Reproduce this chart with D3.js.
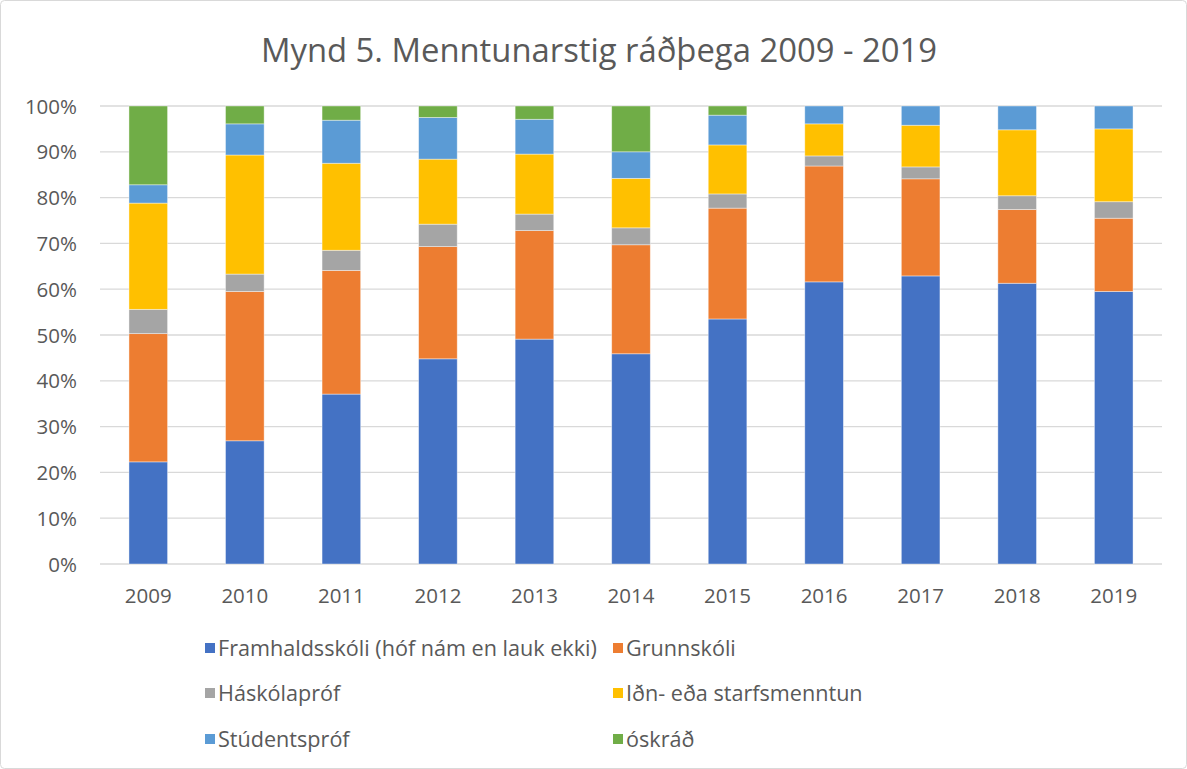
<!DOCTYPE html>
<html lang="is">
<head>
<meta charset="utf-8">
<script src="https://cdn.jsdelivr.net/npm/d3@7"></script>
<title>Mynd 5</title>
<style>
  body { margin: 0; background: #fff; }
  svg text { font-family: "Open Sans", Lato, sans-serif; fill: #595959; }
</style>
</head>
<body>
<svg width="1187" height="769"></svg>
<script>
// data (percent of each year)
var years = ["2009","2010","2011","2012","2013","2014","2015","2016","2017","2018","2019"];
var seriesNames = ["Framhaldsskóli (hóf nám en lauk ekki)","Grunnskóli","Háskólapróf","Iðn- eða starfsmenntun","Stúdentspróf","óskráð"];
var framhald  = [22.3, 26.9, 37.1, 44.8, 49.1, 45.9, 53.5, 61.6, 62.9, 61.3, 59.5];
var grunn     = [28.0, 32.6, 27.0, 24.5, 23.7, 23.8, 24.2, 25.3, 21.2, 16.1, 16.0];
var haskoli   = [ 5.3,  3.8,  4.4,  4.9,  3.6,  3.7,  3.1,  2.2,  2.6,  3.0,  3.6];
var idn       = [23.2, 26.0, 19.0, 14.2, 13.1, 10.8, 10.7,  7.0,  9.1, 14.4, 15.9];
var studens   = [ 4.0,  6.8,  9.4,  9.1,  7.6,  5.8,  6.5,  3.9,  4.2,  5.2,  5.0];
var oskrad    = [17.2,  3.9,  3.1,  2.5,  2.9, 10.0,  2.0,  0.0,  0.0,  0.0,  0.0];
var yTicks = [0, 10, 20, 30, 40, 50, 60, 70, 80, 90, 100];

var colors = ["#4472C4","#ED7D31","#A5A5A5","#FFC000","#5B9BD5","#70AD47"];
var allSeries = [framhald, grunn, haskoli, idn, studens, oskrad];

// build rows for the stack
var rows = years.map(function(y, i) {
  var r = {year: y};
  seriesNames.forEach(function(n, k) { r[n] = allSeries[k][i]; });
  return r;
});

var svg = d3.select("svg");
var W = 1187, H = 769;

svg.append("rect")
  .attr("x", 0.5).attr("y", 0.5)
  .attr("width", W - 1).attr("height", H - 1)
  .attr("rx", 4)
  .attr("fill", "#fff")
  .attr("stroke", "#D9D9D9");

var plotLeft = 100, plotRight = 1162, plotTop = 106, plotBottom = 564;

var x = d3.scaleBand().domain(years).range([plotLeft, plotRight]).paddingInner(0.6).paddingOuter(0.3);
var y = d3.scaleLinear().domain([0, 100]).range([plotBottom, plotTop]);

// gridlines
svg.append("g")
  .selectAll("line")
  .data(yTicks)
  .enter().append("line")
  .attr("x1", plotLeft).attr("x2", plotRight)
  .attr("y1", function(d) { return y(d); })
  .attr("y2", function(d) { return y(d); })
  .attr("stroke", "#D9D9D9")
  .attr("stroke-width", 1.3);

// y axis labels
var yAxis = svg.append("g")
  .attr("transform", "translate(" + (plotLeft - 23) + ",0)")
  .call(d3.axisLeft(y).tickValues(yTicks).tickSize(0).tickPadding(0).tickFormat(function(d) { return d + "%"; }));
yAxis.select(".domain").remove();
yAxis.selectAll("text").style("font-size", "20.5px").attr("fill", "#595959").attr("dy", "0.35em");

// x axis labels
var xAxis = svg.append("g")
  .attr("transform", "translate(0," + (plotBottom + 24) + ")")
  .call(d3.axisBottom(x).tickSize(0).tickPadding(0));
xAxis.select(".domain").remove();
xAxis.selectAll("text").style("font-size", "20.5px").attr("fill", "#595959");

var stack = d3.stack().keys(seriesNames)(rows);

svg.append("g")
  .selectAll("g")
  .data(stack)
  .enter().append("g")
  .attr("fill", function(d, i) { return colors[i]; })
  .selectAll("rect")
  .data(function(d) { return d; })
  .enter().append("rect")
  .attr("x", function(d) { return x(d.data.year); })
  .attr("width", x.bandwidth())
  .attr("y", function(d) { return y(d[1]); })
  .attr("height", function(d) { return y(d[0]) - y(d[1]); })
  .attr("stroke", "#fff")
  .attr("stroke-opacity", 0.5)
  .attr("stroke-width", 0.8);

// title
svg.append("text")
  .attr("x", 599).attr("y", 62)
  .attr("text-anchor", "middle")
  .style("font-size", "32.8px")
  .text("Mynd 5. Menntunarstig ráðþega 2009 - 2019");

// legend
var legendX = [205, 613];
var legendY = [648, 693, 739];
var legend = svg.append("g")
  .selectAll("g")
  .data(seriesNames)
  .enter().append("g")
  .attr("transform", function(d, i) {
    return "translate(" + legendX[i % 2] + "," + legendY[Math.floor(i / 2)] + ")";
  });
legend.append("rect")
  .attr("x", 0).attr("y", -5)
  .attr("width", 10).attr("height", 10)
  .attr("fill", function(d, i) { return colors[i]; });
legend.append("text")
  .attr("x", 13).attr("y", 0)
  .attr("dy", "0.35em")
  .style("font-size", "21.6px")
  .text(function(d) { return d; });
</script>
</body>
</html>
